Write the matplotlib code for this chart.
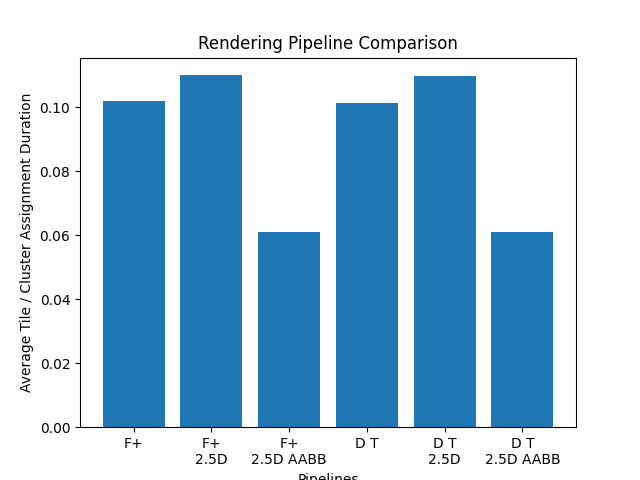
import matplotlib
matplotlib.use("Agg")
import matplotlib.pyplot as plt

# data
pipelines = ["F+", "F+\n2.5D", "F+\n2.5D AABB", "D T", "D T\n2.5D", "D T\n2.5D AABB"]
durations = [0.1019, 0.1100, 0.0609, 0.1012, 0.1097, 0.0609]

fig, ax = plt.subplots(figsize=(6.4, 4.8), dpi=100)
ax.bar(pipelines, durations)

ax.set_title("Rendering Pipeline Comparison")
ax.set_xlabel("Pipelines")
ax.set_ylabel("Average Tile / Cluster Assignment Duration")

fig.savefig("out.png", dpi=100)
